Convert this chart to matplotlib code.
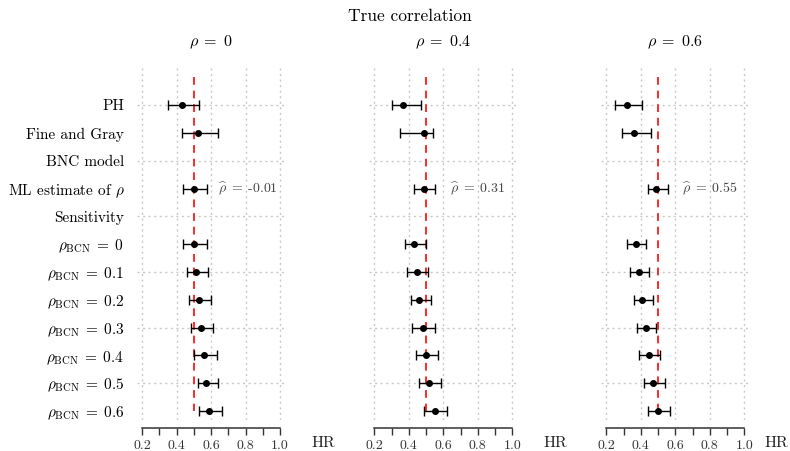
import numpy as np
import matplotlib
matplotlib.use("Agg")
import matplotlib.pyplot as plt
import matplotlib.transforms as mtransforms

plt.rcParams['font.family'] = ['cmr10', 'DejaVu Serif']
plt.rcParams['mathtext.fontset'] = 'cm'
plt.rcParams['axes.unicode_minus'] = False

# ---------------------- data ----------------------
row_labels = ["PH", "Fine and Gray", "BNC model", r"ML estimate of $\rho$", "Sensitivity",
              r"$\rho_{\mathrm{BCN}}\;=\;0$", r"$\rho_{\mathrm{BCN}}\;=\;0.1$", r"$\rho_{\mathrm{BCN}}\;=\;0.2$",
              r"$\rho_{\mathrm{BCN}}\;=\;0.3$", r"$\rho_{\mathrm{BCN}}\;=\;0.4$", r"$\rho_{\mathrm{BCN}}\;=\;0.5$",
              r"$\rho_{\mathrm{BCN}}\;=\;0.6$"]
panel_titles = [r"$\rho\;=\;0$", r"$\rho\;=\;0.4$", r"$\rho\;=\;0.6$"]
rho_hat = ["-0.01", "0.31", "0.55"]
nan = np.nan

# hazard ratio estimates (rows as above, header rows empty)
hr_rho0 = [0.43, 0.523, nan, 0.50, nan, 0.50, 0.513, 0.532, 0.542, 0.561, 0.571, 0.590]
lo_rho0 = [0.352, 0.43, nan, 0.44, nan, 0.44, 0.463, 0.474, 0.484, 0.50, 0.523, 0.532]
hi_rho0 = [0.53, 0.642, nan, 0.575, nan, 0.575, 0.585, 0.60, 0.613, 0.633, 0.642, 0.662]

hr_rho04 = [0.368, 0.49, nan, 0.49, nan, 0.43, 0.449, 0.461, 0.48, 0.50, 0.519, 0.55]
lo_rho04 = [0.301, 0.351, nan, 0.43, nan, 0.38, 0.391, 0.411, 0.42, 0.44, 0.461, 0.49]
hi_rho04 = [0.471, 0.542, nan, 0.552, nan, 0.50, 0.51, 0.529, 0.55, 0.569, 0.588, 0.62]

hr_rho06 = [0.32, 0.361, nan, 0.49, nan, 0.37, 0.39, 0.409, 0.43, 0.449, 0.469, 0.50]
lo_rho06 = [0.25, 0.289, nan, 0.44, nan, 0.32, 0.339, 0.36, 0.38, 0.39, 0.42, 0.44]
hi_rho06 = [0.409, 0.459, nan, 0.559, nan, 0.43, 0.449, 0.471, 0.49, 0.509, 0.54, 0.569]

panels = [(hr_rho0, lo_rho0, hi_rho0), (hr_rho04, lo_rho04, hi_rho04), (hr_rho06, lo_rho06, hi_rho06)]
grid_rows = [0, 2, 4, 6, 8, 10]
ml_row = 3
true_hr = 0.5

# ---------------------- figure ----------------------
fig = plt.figure(figsize=(7.9, 4.51), dpi=100)
lefts = [0.1732, 0.4672, 0.7609]
hr_x = [1.25, 1.25, 1.185]
rows = np.arange(len(row_labels))

for k, (hr, lo, hi) in enumerate(panels):
    ax = fig.add_axes([lefts[k], 0.0687, 0.1878, 0.7827])
    hr = np.array(hr)
    err = np.vstack([hr - np.array(lo), np.array(hi) - hr])

    ax.set_xlim(0.17, 1.03)
    ax.set_ylim(11.32, -1.37)

    # grid
    ax.set_xticks([0.2, 0.4, 0.6, 0.8, 1.0])
    ax.set_xticks(np.arange(0.2, 1.01, 0.1), minor=True)
    ax.grid(axis='x', which='major', color='#c8c8c8', linestyle=(0, (1.5, 2.5)), lw=1)
    for r in grid_rows:
        ax.axhline(r, color='#c8c8c8', linestyle=(0, (1.5, 2.5)), lw=1, zorder=0)
    ax.set_axisbelow(True)

    ax.vlines(true_hr, -1, 11, color='#ff2a2a', linestyle=(0, (4, 3)), lw=1.4, zorder=2)

    ax.errorbar(hr, rows, xerr=err, fmt='o', color='black', ms=4, lw=1,
                capsize=3.5, capthick=1, zorder=3)

    ax.text(0.64, ml_row, r"$\widehat{\rho}\;=\;$" + rho_hat[k], va='center', ha='left',
            fontsize=10, color='#444444')

    ax.set_title(panel_titles[k], fontsize=11.5, pad=15)

    for s in ['top', 'right', 'left']:
        ax.spines[s].set_visible(False)
    ax.spines['bottom'].set_position(('outward', 6))
    ax.spines['bottom'].set_bounds(0.2, 1.0)
    ax.spines['bottom'].set_color('#333333')
    ax.spines['bottom'].set_linewidth(1.1)
    ax.set_xticklabels(["0.2", "0.4", "0.6", "0.8", "1.0"], fontsize=10)
    ax.tick_params(axis='x', which='both', direction='out', length=5, width=1,
                   color='#333333', labelcolor='#333333', pad=3)

    ax.set_yticks(rows)
    if k == 0:
        ax.set_yticklabels(row_labels, fontsize=11)
    else:
        ax.set_yticklabels([])
    ax.tick_params(axis='y', length=0, pad=9)

    trans = mtransforms.blended_transform_factory(ax.transData, ax.transAxes)
    ax.text(hr_x[k], -0.065, "HR", transform=trans, ha='center', va='center',
            fontsize=11.5, color='#222222')

fig.text(0.519, 1 - 16 / 451, "True correlation", ha='center', va='center', fontsize=12.5)

plt.savefig("out.png", dpi=100)
